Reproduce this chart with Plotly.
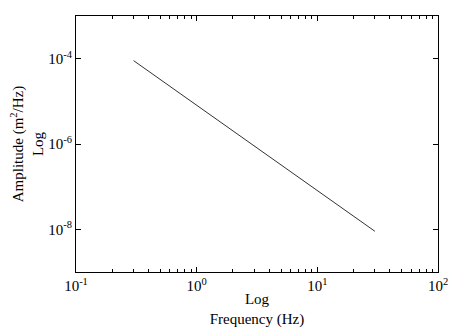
import plotly.graph_objects as go

# spectrum end points (log-log straight line)
freq = [0.3, 30]
amp = [9e-5, 9e-9]

x_ticks = [0.1, 1, 10, 100]
x_labels = ["10<sup>-1</sup>", "10<sup>0</sup>", "10<sup>1</sup>", "10<sup>2</sup>"]
y_ticks = [1e-8, 1e-6, 1e-4]
y_labels = ["10<sup>-8</sup>", "10<sup>-6</sup>", "10<sup>-4</sup>"]

FONT = "Liberation Serif"

fig = go.Figure(go.Scatter(
    x=freq, y=amp, mode="lines",
    line=dict(color="#333333", width=1),
    showlegend=False
))

# page body has an 8px margin, so the figure is drawn 8px smaller
fig.update_layout(
    width=455, height=328,
    paper_bgcolor="white", plot_bgcolor="white",
    margin=dict(l=68, r=25, t=8, b=64),
    font=dict(family=FONT, size=15, color="black"),
)

fig.update_xaxes(
    type="log", range=[-1, 2],
    tickvals=x_ticks, ticktext=x_labels,
    ticks="inside", ticklen=5, tickcolor="black",
    minor=dict(ticks="inside", ticklen=3, tickcolor="black", dtick="D1", showgrid=False),
    showline=True, linecolor="black", linewidth=1, mirror="ticks",
    showgrid=False, zeroline=False, automargin=False,
    title=dict(text="Log<br>Frequency (Hz)", font=dict(size=15), standoff=0),
    tickfont=dict(size=15),
)

fig.update_yaxes(
    type="log", range=[-9, -3],
    tickvals=y_ticks, ticktext=y_labels,
    ticks="inside", ticklen=5, tickcolor="black",
    showline=True, linecolor="black", linewidth=1, mirror="ticks",
    showgrid=False, zeroline=False, automargin=False,
    title=dict(text="Amplitude (m<sup>2</sup>/Hz)<br>Log", font=dict(size=15), standoff=2),
    tickfont=dict(size=15),
)

fig.write_html("out.html")
